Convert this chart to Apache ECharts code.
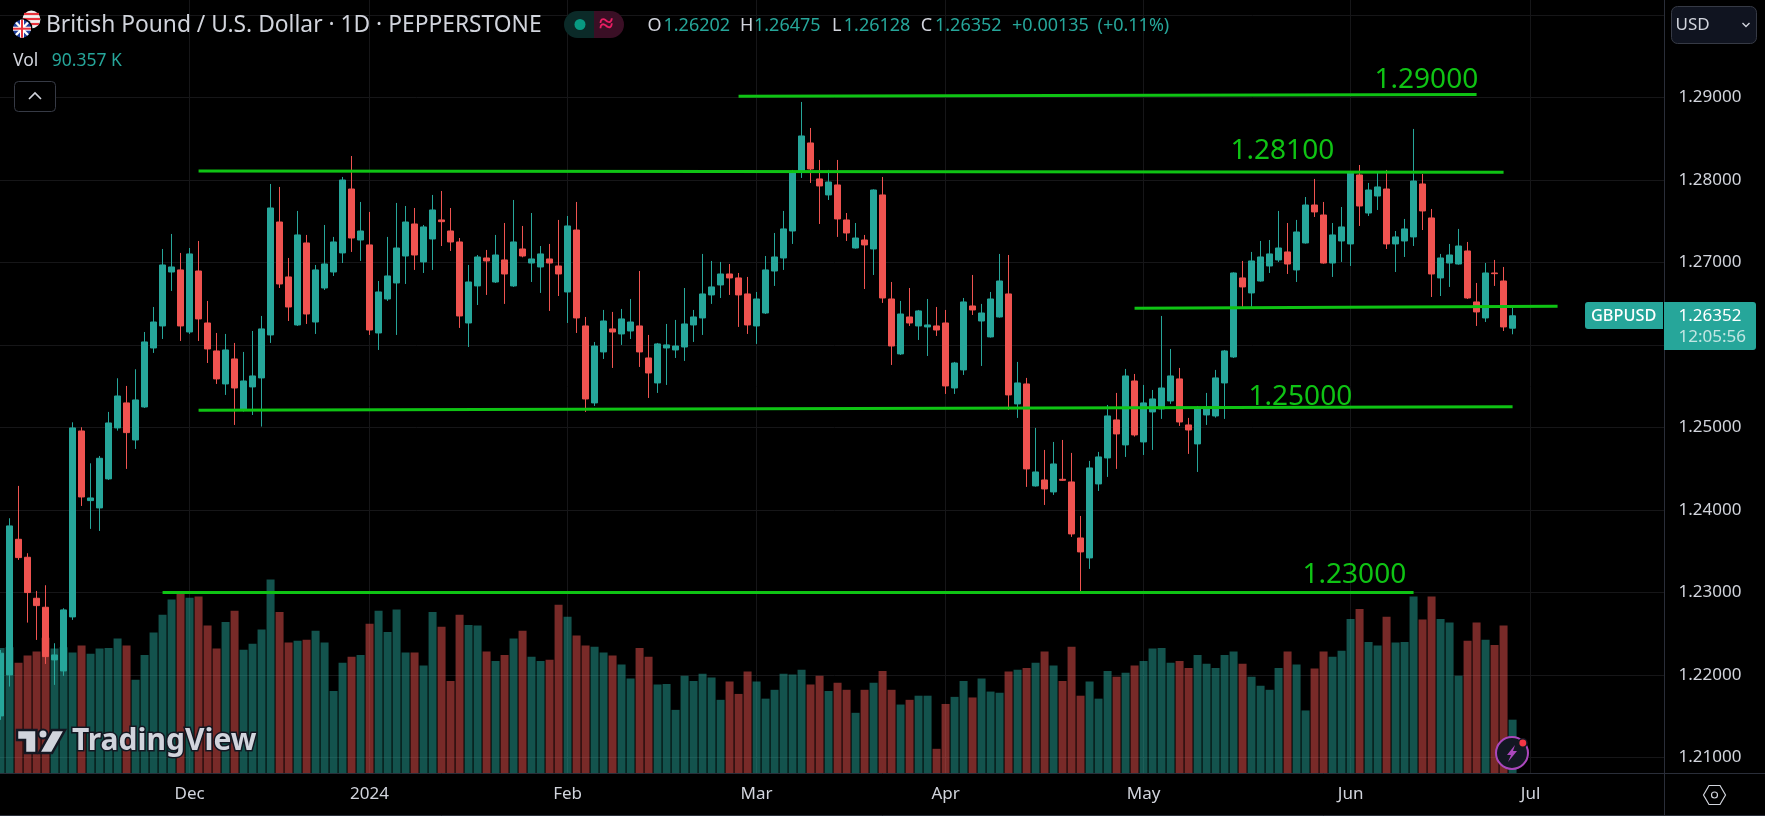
<!DOCTYPE html>
<html><head><meta charset="utf-8"><title>GBPUSD</title>
<style>html,body{margin:0;padding:0;background:#000}#c{width:1765px;height:816px}</style>
<script src="https://cdn.jsdelivr.net/npm/echarts@6/dist/echarts.min.js"></script></head>
<body><div id="c"></div>
<script>
// [open, close, low, high]
const candles=[
[1.21502,1.22262,1.21454,1.22302],[1.21999,1.23805,1.21858,1.23898],[1.23643,1.23421,1.23393,1.24290],[1.23425,1.22997,1.22633,1.23474],[1.22928,1.22839,1.22423,1.23017],[1.22819,1.22221,1.22132,1.23086],[1.22181,1.22241,1.21878,1.22383],[1.22047,1.22787,1.21987,1.22807],[1.22702,1.24993,1.22666,1.25061],[1.24956,1.24156,1.24047,1.25001],
[1.24112,1.24144,1.23769,1.24564],[1.24023,1.24625,1.23744,1.24653],[1.24375,1.25053,1.24362,1.25187],[1.24993,1.25380,1.24960,1.25595],[1.25296,1.24936,1.24496,1.25502],[1.24847,1.25332,1.24738,1.25704],[1.25247,1.26035,1.25235,1.26156],[1.25962,1.26277,1.25902,1.26459],[1.26229,1.26968,1.26071,1.27162],[1.26883,1.26944,1.26653,1.27344],
[1.26908,1.26229,1.26047,1.27114],[1.26156,1.27102,1.26132,1.27174],[1.26895,1.26314,1.26047,1.27259],[1.26265,1.25950,1.25780,1.26532],[1.25926,1.25587,1.25526,1.26144],[1.25526,1.25938,1.25393,1.26132],[1.25829,1.25477,1.25029,1.26023],[1.25211,1.25562,1.25191,1.25914],[1.25490,1.25623,1.25150,1.26168],[1.25599,1.26193,1.25009,1.26350],
[1.26120,1.27659,1.26023,1.27950],[1.27489,1.26738,1.26689,1.27914],[1.26823,1.26459,1.26289,1.27053],[1.26241,1.27332,1.26229,1.27623],[1.27235,1.26374,1.26253,1.27332],[1.26277,1.26908,1.26132,1.26968],[1.26689,1.26980,1.26665,1.27453],[1.26883,1.27247,1.26835,1.27308],[1.27114,1.27998,1.26992,1.28035],[1.27889,1.27295,1.27126,1.28289],
[1.27271,1.27380,1.27017,1.27732],[1.27211,1.26180,1.26120,1.27611],[1.26144,1.26641,1.25938,1.26774],[1.26556,1.26835,1.26532,1.27308],[1.26750,1.27174,1.26120,1.27720],[1.27077,1.27489,1.26738,1.27683],[1.27465,1.27089,1.26908,1.27659],[1.27005,1.27429,1.26871,1.27453],[1.27283,1.27635,1.26908,1.27817],[1.27514,1.27493,1.27198,1.27865],
[1.27380,1.27247,1.27138,1.27659],[1.27247,1.26350,1.26205,1.27295],[1.26265,1.26762,1.25974,1.26968],[1.26714,1.27065,1.26483,1.27089],[1.27053,1.27017,1.26605,1.27150],[1.26762,1.27089,1.26750,1.27332],[1.27029,1.26859,1.26496,1.27477],[1.26714,1.27247,1.26702,1.27756],[1.27162,1.27077,1.27061,1.27441],[1.26992,1.27041,1.26762,1.27598],
[1.26944,1.27102,1.26629,1.27198],[1.27041,1.26992,1.26411,1.27223],[1.26956,1.26859,1.26592,1.27514],[1.26641,1.27441,1.26265,1.27562],[1.27392,1.26326,1.26144,1.27732],[1.26229,1.25344,1.25187,1.26338],[1.25296,1.25986,1.25259,1.26035],[1.25914,1.26289,1.25829,1.26423],[1.26193,1.26156,1.25720,1.26399],[1.26132,1.26314,1.25999,1.26435],
[1.26168,1.26277,1.26071,1.26556],[1.26229,1.25914,1.25732,1.26895],[1.25841,1.25659,1.25356,1.26120],[1.25538,1.26011,1.25417,1.26023],[1.25962,1.25999,1.25514,1.26253],[1.25938,1.25986,1.25841,1.26302],[1.25974,1.26253,1.25805,1.26689],[1.26241,1.26338,1.26035,1.26423],[1.26326,1.26617,1.26120,1.27102],[1.26605,1.26702,1.26496,1.27017],
[1.26726,1.26859,1.26568,1.27005],[1.26859,1.26811,1.26605,1.26980],[1.26811,1.26605,1.26217,1.26871],[1.26617,1.26241,1.26132,1.26823],[1.26229,1.26556,1.26011,1.26641],[1.26386,1.26908,1.26374,1.27077],[1.26895,1.27065,1.26714,1.27356],[1.27053,1.27405,1.26908,1.27623],[1.27380,1.28095,1.27223,1.28120],[1.28095,1.28532,1.28023,1.28944],
[1.28447,1.28132,1.27962,1.28629],[1.28011,1.27926,1.27465,1.28241],[1.27817,1.27974,1.27756,1.28120],[1.27938,1.27526,1.27308,1.28241],[1.27514,1.27356,1.27259,1.27598],[1.27174,1.27295,1.27166,1.27477],[1.27271,1.27211,1.26677,1.27332],[1.27162,1.27877,1.26847,1.27885],[1.27817,1.26568,1.26508,1.28035],[1.26556,1.25986,1.25756,1.26762],
[1.25890,1.26374,1.25877,1.26532],[1.26338,1.26265,1.26229,1.26689],[1.26229,1.26411,1.26059,1.26423],[1.26217,1.26241,1.25865,1.26556],[1.26229,1.26180,1.26108,1.26459],[1.26265,1.25502,1.25405,1.26423],[1.25477,1.25780,1.25405,1.25793],[1.25696,1.26520,1.25635,1.26568],[1.26471,1.26423,1.26362,1.26847],[1.26289,1.26386,1.25744,1.26496],
[1.26096,1.26556,1.26088,1.26641],[1.26338,1.26774,1.26330,1.27102],[1.26617,1.25393,1.25211,1.27089],[1.25284,1.25538,1.25114,1.25793],[1.25526,1.24496,1.24278,1.25599],[1.24290,1.24459,1.24282,1.24993],[1.24362,1.24253,1.24059,1.24726],[1.24217,1.24556,1.24181,1.24823],[1.24370,1.24358,1.24350,1.24847],[1.24338,1.23708,1.23672,1.24690],
[1.23659,1.23490,1.23005,1.23926],[1.23417,1.24508,1.23284,1.24593],[1.24314,1.24641,1.24229,1.24702],[1.24629,1.25138,1.24399,1.25271],[1.25090,1.24920,1.24496,1.25417],[1.24787,1.25623,1.24641,1.25708],[1.25562,1.24908,1.24888,1.25647],[1.24823,1.25296,1.24665,1.25514],[1.25187,1.25344,1.24726,1.25453],[1.25223,1.25477,1.25102,1.26350],
[1.25320,1.25623,1.25284,1.25950],[1.25587,1.25065,1.25017,1.25720],[1.25029,1.24968,1.24678,1.25114],[1.24799,1.25235,1.24459,1.25259],[1.25150,1.25247,1.25029,1.25417],[1.25138,1.25599,1.25118,1.25696],[1.25538,1.25926,1.25102,1.25938],[1.25853,1.26871,1.25841,1.26879],[1.26811,1.26702,1.26459,1.27017],[1.26629,1.27017,1.26459,1.27126],
[1.26774,1.27065,1.26766,1.27259],[1.26956,1.27102,1.26871,1.27271],[1.27029,1.27174,1.27005,1.27623],[1.27126,1.26980,1.26859,1.27477],[1.26908,1.27368,1.26762,1.27514],[1.27235,1.27695,1.27227,1.27792],[1.27695,1.27611,1.27550,1.28011],[1.27574,1.26992,1.26984,1.27732],[1.26992,1.27332,1.26823,1.27477],[1.27259,1.27429,1.27005,1.27671],
[1.27223,1.28083,1.26956,1.28091],[1.28059,1.27683,1.27441,1.28180],[1.27598,1.27877,1.27562,1.27962],[1.27804,1.27914,1.27635,1.28095],[1.27889,1.27223,1.27162,1.28120],[1.27223,1.27308,1.26883,1.27380],[1.27259,1.27405,1.27065,1.27526],[1.27308,1.27986,1.27198,1.28617],[1.27950,1.27623,1.27392,1.28071],[1.27538,1.26859,1.26580,1.27647],
[1.26811,1.27053,1.26592,1.27102],[1.26992,1.27089,1.26702,1.27223],[1.26980,1.27198,1.26972,1.27405],[1.27138,1.26568,1.26556,1.27247],[1.26520,1.26399,1.26229,1.26750],[1.26326,1.26871,1.26277,1.26992],[1.26871,1.26863,1.26714,1.27029],[1.26774,1.26217,1.26168,1.26944],[1.26202,1.26352,1.26128,1.26475]];
// volume, thousands
const volumes=[212,213,187,199,206,229,211,213,204,216,202,211,212,228,216,158,200,238,268,294,305,297,299,250,211,256,275,209,219,243,328,273,221,224,226,241,221,139,187,197,200,253,275,239,277,204,204,182,273,248,156,268,251,250,206,190,200,228,241,197,190,192,285,265,233,216,214,204,199,184,160,212,197,150,151,107,165,156,168,162,124,155,134,172,155,126,141,168,167,175,150,165,139,153,141,102,141,153,173,141,116,124,131,131,41,117,129,156,128,160,138,136,172,175,178,187,206,182,156,214,131,155,126,173,163,170,182,190,211,212,187,190,178,200,185,178,200,206,185,163,148,141,178,206,184,106,177,206,197,207,261,278,222,216,265,221,222,299,260,299,261,255,165,224,255,226,217,250,90.357];
const priceTicks=[1.21,1.22,1.23,1.24,1.25,1.26,1.27,1.28,1.29,1.30];
const skippedDays=['2023-12-25','2024-01-01'];
const dateTicks={'2023-12-01':'Dec','2024-01-02':'2024','2024-02-01':'Feb','2024-03-01':'Mar','2024-04-01':'Apr','2024-05-01':'May','2024-06-03':'Jun','2024-07-01':'Jul'};
// [start bar, start price, end bar, end price]
const levelLines=[[82,1.29012,164,1.29033],[22,1.28107,167,1.28091],[22,1.25207,168,1.25251],[126,1.26443,173,1.26467],[18,1.23001,157,1.23001]];
// [text, bar, price]
const levelLabels=[['1.29000',158,1.29235],['1.28100',142,1.28374],['1.25000',144,1.25391],['1.23000',150,1.23235]];

const categories=[];
for(let d=new Date(Date.UTC(2023,10,2));categories.length<186;d=new Date(d.getTime()+864e5)){
  const s=d.toISOString().slice(0,10),w=d.getUTCDay();
  if(w!==0&&w!==6&&!skippedDays.includes(s))categories.push(s);
}
const tickIdx=categories.map((c,i)=>dateTicks[c]?i:-1).filter(i=>i>=0);
const UP='#26a69a',DOWN='#ef5350',GREEN='#0fc314',TXT='#d1d4dc',FONT='"Noto Sans"';
const t=(text,x,y,fill,size,extra)=>({type:'text',z:100,silent:true,style:Object.assign({text,x,y,fill,font:(extra&&extra.weight||'400')+' '+size+'px '+FONT,textVerticalAlign:'middle',textAlign:'left'},extra&&extra.style)});
const ln=(x1,y1,x2,y2,stroke,w)=>({type:'line',z:100,silent:true,shape:{x1,y1,x2,y2},style:{stroke,lineWidth:w||1}});
const gfx=[
 {type:'rect',z:90,silent:true,shape:{x:1664.5,y:0,width:10,height:773},style:{fill:'#000'}},
 ln(0,773.5,1765,773.5,'#2a2e39'),ln(1664.5,0,1664.5,816,'#2a2e39'),ln(0,815.5,1765,815.5,'#2a2e39'),
 // flags
 {type:'circle',z:100,silent:true,shape:{cx:31.4,cy:19.5,r:9},style:{fill:'#f0f0f0'}},
 ln(24,14,39,14,'#e8333c',2.2),ln(23,19,40,19,'#e8333c',2.2),ln(24,24,39,24,'#e8333c',2.2),
 {type:'circle',z:101,silent:true,shape:{cx:22,cy:28.7,r:10.5},style:{fill:'#000'}},
 {type:'circle',z:101,silent:true,shape:{cx:22,cy:28.7,r:9},style:{fill:'#1f3f9c'}},
 Object.assign(ln(16,22.5,28,35,'#fff',2.4),{z:102}),Object.assign(ln(28,22.5,16,35,'#fff',2.4),{z:102}),
 Object.assign(ln(13,28.7,31,28.7,'#fff',4),{z:102}),Object.assign(ln(22,19.7,22,37.7,'#fff',4),{z:102}),
 Object.assign(ln(13,28.7,31,28.7,'#e8333c',2),{z:103}),Object.assign(ln(22,19.7,22,37.7,'#e8333c',2),{z:103}),
 t('British Pound / U.S. Dollar · 1D · PEPPERSTONE',46,26,TXT,22.8),
 // status pill
 {type:'rect',z:100,silent:true,shape:{x:564,y:11,width:30,height:27,r:[13.5,0,0,13.5]},style:{fill:'#0b2a28'}},
 {type:'rect',z:100,silent:true,shape:{x:594,y:11,width:30,height:27,r:[0,13.5,13.5,0]},style:{fill:'#3a0f25'}},
 {type:'circle',z:101,silent:true,shape:{cx:580,cy:24.5,r:5.5},style:{fill:'#089981'}},
 t('≈',599,25,'#e91e63',26,{weight:'700'}),
 t('O',647.4,26,TXT,18),t('1.26202',663.5,26,UP,18),
 t('H',740,26,TXT,18),t('1.26475',754,26,UP,18),
 t('L',832,26,TXT,18),t('1.26128',843.8,26,UP,18),
 t('C',920.7,26,TXT,18),t('1.26352',935,26,UP,18),
 t('+0.00135',1012,26,UP,18),t('(+0.11%)',1097.5,26,UP,18),
 t('Vol',13,61,TXT,17.5),t('90.357 K',51.7,61,UP,17.5),
 {type:'rect',z:100,silent:true,shape:{x:14.5,y:81.5,width:41,height:30,r:4},style:{fill:'#000',stroke:'#363a45'}},
 {type:'polyline',z:101,silent:true,shape:{points:[[29,99],[35,93],[41,99]]},style:{fill:'none',stroke:TXT,lineWidth:1.6}},
 // currency button
 {type:'rect',z:100,silent:true,shape:{x:1671.5,y:6.5,width:85,height:37,r:6},style:{fill:'#101420',stroke:'#363a45'}},
 t('USD',1675.5,25,TXT,17),
 {type:'polyline',z:101,silent:true,shape:{points:[[1742.5,23],[1746,26.5],[1749.5,23]]},style:{fill:'none',stroke:TXT,lineWidth:1.4}},
 // price tags
 {type:'rect',z:100,silent:true,shape:{x:1585,y:302,width:78,height:27,r:[3,0,0,3]},style:{fill:UP}},
 t('GBPUSD',1591,316,'#fff',16.3,{weight:'500'}),
 {type:'rect',z:100,silent:true,shape:{x:1664,y:302,width:92,height:48,r:[0,3,3,0]},style:{fill:UP}},
 t('1.26352',1678.5,316,'#fff',17),t('12:05:56',1678.5,337,'rgba(255,255,255,.72)',17),
 // settings
 {type:'polygon',z:100,silent:true,shape:{points:[[1703.5,795],[1709,785.5],[1720,785.5],[1725.5,795],[1720,804.5],[1709,804.5]]},style:{fill:'none',stroke:TXT,lineWidth:1.2}},
 {type:'circle',z:100,silent:true,shape:{cx:1714.5,cy:795,r:3},style:{fill:'none',stroke:TXT,lineWidth:1.2}},
 // lightning badge
 {type:'circle',z:100,silent:true,shape:{cx:1512,cy:753,r:16},style:{fill:'#131722',stroke:'#ab47bc',lineWidth:2}},
 {type:'polygon',z:101,silent:true,shape:{points:[[1515,745],[1507,755],[1511,755],[1508,762],[1517,751],[1513,751]]},style:{fill:'#ab47bc'}},
 {type:'circle',z:102,silent:true,shape:{cx:1522.8,cy:743,r:4.2},style:{fill:'#f23645',stroke:'#131722',lineWidth:1.5}},
 // TradingView mark
 {type:'polygon',z:100,silent:true,shape:{points:[[17,730],[36.5,730],[36.5,753],[25,753],[25,740],[17,740]]},style:{fill:TXT,stroke:'#131722',lineWidth:2.5}},
 {type:'circle',z:100,silent:true,shape:{cx:43,cy:734,r:4.5},style:{fill:TXT,stroke:'#131722',lineWidth:2}},
 {type:'polygon',z:100,silent:true,shape:{points:[[52,730],[65,730],[52,753],[39,753]]},style:{fill:TXT,stroke:'#131722',lineWidth:2.5}},
 {type:'text',z:100,silent:true,style:{text:'TradingView',x:72,y:741,fill:TXT,stroke:'#131722',lineWidth:3,font:'700 30px '+FONT,textVerticalAlign:'middle'}}
];
const chart=echarts.init(document.getElementById('c'),null,{renderer:'canvas'});
chart.setOption({
 animation:false,backgroundColor:'#000',
 grid:{left:-3.93,top:0,width:1674,height:773,containLabel:false,outerBoundsMode:'none'},
 xAxis:{type:'category',data:categories,boundaryGap:true,
  axisLine:{show:false},
  axisTick:{show:false,alignWithLabel:true,customValues:tickIdx},
  axisLabel:{customValues:tickIdx,margin:13,color:TXT,fontFamily:FONT,fontSize:17,formatter:v=>dateTicks[v]||'',hideOverlap:false},
  splitLine:{show:true,alignWithLabel:true,lineStyle:{color:'#161618',width:1}}},
 yAxis:[
  {type:'value',position:'right',min:1.2081,max:1.3018,scale:true,
   axisLine:{show:false},axisTick:{show:false,customValues:priceTicks},
   axisLabel:{customValues:priceTicks,margin:8.4,color:TXT,fontFamily:FONT,fontSize:17,formatter:v=>v.toFixed(5),showMinLabel:true,showMaxLabel:true},
   splitLine:{show:true,lineStyle:{color:'#161618',width:1}}},
  {type:'value',min:0,max:1310,show:false,splitLine:{show:false}}],
 graphic:gfx,
 series:[
  {type:'bar',name:'Vol',yAxisIndex:1,barWidth:8,z:1,silent:true,
   data:volumes.map((v,i)=>({value:v,itemStyle:{color:candles[i][1]>=candles[i][0]?'rgba(38,166,154,.5)':'rgba(239,83,80,.5)'}}))},
  {type:'candlestick',name:'GBPUSD',yAxisIndex:0,barWidth:6,z:3,silent:true,data:candles,
   itemStyle:{color:UP,color0:DOWN,borderColor:UP,borderColor0:DOWN,borderWidth:1},
   markLine:{silent:true,symbol:'none',z:5,animation:false,label:{show:false},lineStyle:{color:GREEN,width:3,type:'solid'},
    data:levelLines.map(l=>[{coord:[l[0],l[1]]},{coord:[l[2],l[3]]}])},
   markPoint:{silent:true,symbol:'circle',symbolSize:0,z:6,animation:false,
    label:{show:true,position:'inside',offset:[3.8,2],color:GREEN,fontFamily:FONT,fontSize:28},
    data:levelLabels.map(l=>({coord:[l[1],l[2]],label:{formatter:l[0]}}))}}
 ]
});
</script></body></html>
